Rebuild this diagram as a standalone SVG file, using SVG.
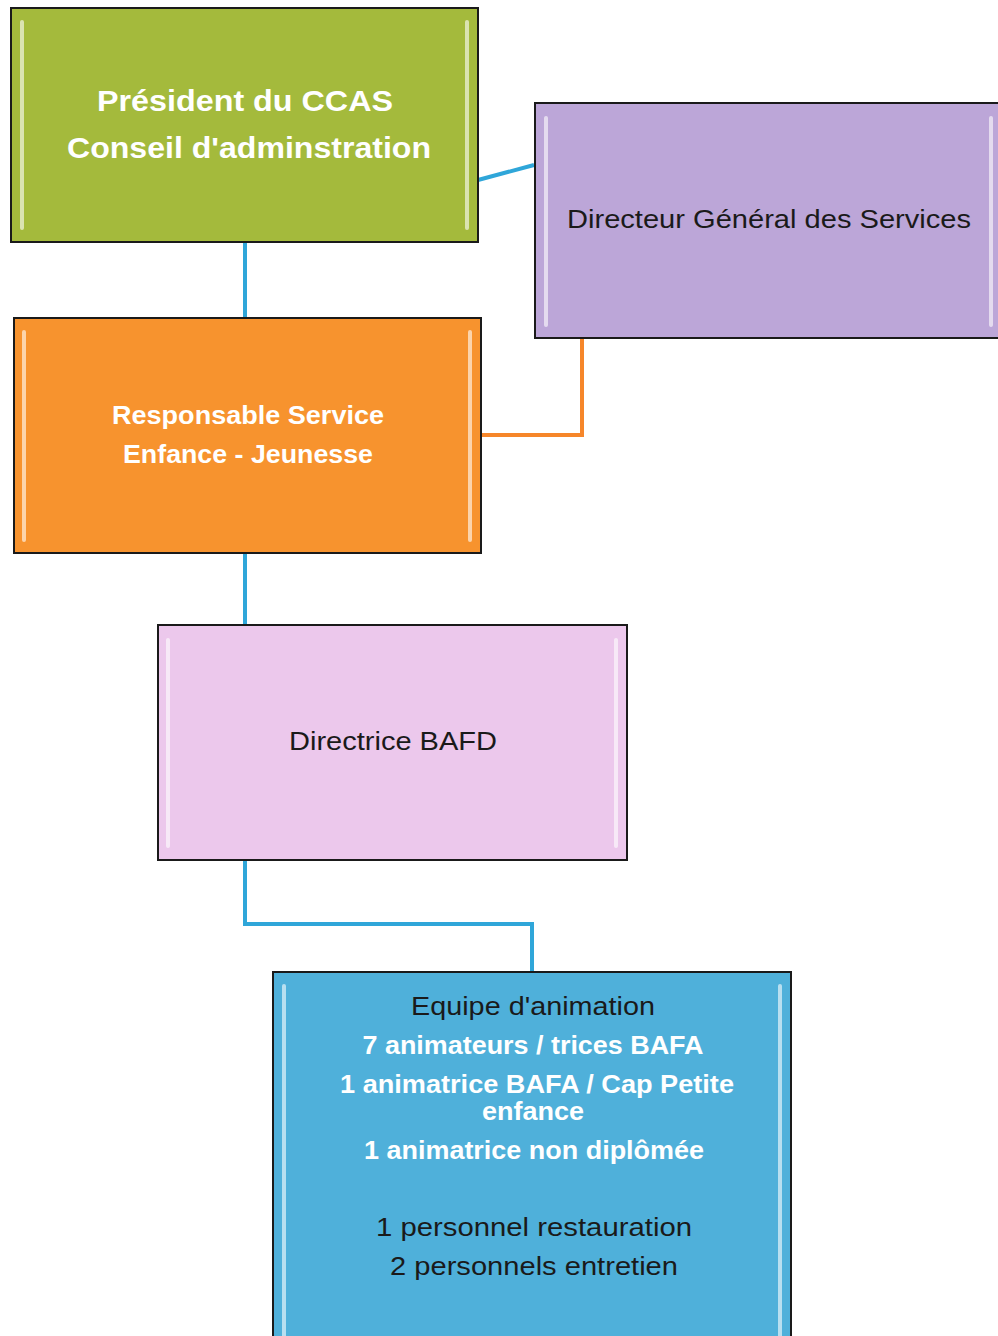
<svg xmlns="http://www.w3.org/2000/svg" width="998" height="1336" viewBox="0 0 998 1336">
<style>
.box{stroke:#1a1a1a;stroke-width:2}
.bevel{stroke:#ffffff;stroke-opacity:0.6;stroke-width:4;stroke-linecap:round}
.lbl{font-family:"Liberation Sans",Arial,sans-serif;text-anchor:middle}
.w{fill:#ffffff;font-weight:bold}
.k{fill:#1a1a1a}
.conn{fill:none;stroke-width:4}
</style>
<rect width="998" height="1336" fill="#ffffff"/>
<g id="connectors">
<line class="conn" x1="478" y1="180" x2="534" y2="165" stroke="#2fa6d9"/>
<line class="conn" x1="245" y1="242" x2="245" y2="318" stroke="#2fa6d9"/>
<polyline class="conn" points="481,435 582,435 582,338" stroke="#f6862a"/>
<line class="conn" x1="245" y1="553" x2="245" y2="625" stroke="#2fa6d9"/>
<polyline class="conn" points="245,860 245,924 532,924 532,972" stroke="#2fa6d9"/>
</g>
<g id="president">
<rect class="box" x="11" y="8" width="467" height="234" fill="#a4ba3c"/>
<line class="bevel" x1="22" y1="22" x2="22" y2="228"/>
<line class="bevel" x1="467" y1="22" x2="467" y2="228"/>
<text class="lbl w" x="245" y="111" font-size="30" textLength="296" lengthAdjust="spacingAndGlyphs">Président du CCAS</text>
<text class="lbl w" x="249" y="158" font-size="30" textLength="364" lengthAdjust="spacingAndGlyphs">Conseil d'adminstration</text>
</g>
<g id="dgs">
<rect class="box" x="535" y="103" width="470" height="235" fill="#bca6d8"/>
<line class="bevel" x1="546" y1="118" x2="546" y2="325"/>
<line class="bevel" x1="991" y1="118" x2="991" y2="325"/>
<text class="lbl k" x="769" y="228" font-size="25" textLength="404" lengthAdjust="spacingAndGlyphs">Directeur Général des Services</text>
</g>
<g id="responsable">
<rect class="box" x="14" y="318" width="467" height="235" fill="#f7932e"/>
<line class="bevel" x1="24" y1="332" x2="24" y2="540"/>
<line class="bevel" x1="470" y1="332" x2="470" y2="540"/>
<text class="lbl w" x="248" y="424" font-size="25" textLength="272" lengthAdjust="spacingAndGlyphs">Responsable Service</text>
<text class="lbl w" x="248" y="463" font-size="25" textLength="250" lengthAdjust="spacingAndGlyphs">Enfance - Jeunesse</text>
</g>
<g id="directrice">
<rect class="box" x="158" y="625" width="469" height="235" fill="#ecc8ec"/>
<line class="bevel" x1="168" y1="640" x2="168" y2="846"/>
<line class="bevel" x1="616" y1="640" x2="616" y2="846"/>
<text class="lbl k" x="393" y="750" font-size="25" textLength="208" lengthAdjust="spacingAndGlyphs">Directrice BAFD</text>
</g>
<g id="equipe">
<rect class="box" x="273" y="972" width="518" height="380" fill="#4fb0da"/>
<line class="bevel" x1="284" y1="986" x2="284" y2="1336"/>
<line class="bevel" x1="780" y1="986" x2="780" y2="1336"/>
<text class="lbl k" x="533" y="1015" font-size="25" textLength="244" lengthAdjust="spacingAndGlyphs">Equipe d'animation</text>
<text class="lbl w" x="533" y="1054" font-size="25" textLength="341" lengthAdjust="spacingAndGlyphs">7 animateurs / trices BAFA</text>
<text class="lbl w" x="537" y="1093" font-size="25" textLength="394" lengthAdjust="spacingAndGlyphs">1 animatrice BAFA / Cap Petite</text>
<text class="lbl w" x="533" y="1120" font-size="25" textLength="102" lengthAdjust="spacingAndGlyphs">enfance</text>
<text class="lbl w" x="534" y="1159" font-size="25" textLength="340" lengthAdjust="spacingAndGlyphs">1 animatrice non diplômée</text>
<text class="lbl k" x="534" y="1236" font-size="25" textLength="316" lengthAdjust="spacingAndGlyphs">1 personnel restauration</text>
<text class="lbl k" x="534" y="1275" font-size="25" textLength="288" lengthAdjust="spacingAndGlyphs">2 personnels entretien</text>
</g>
</svg>
